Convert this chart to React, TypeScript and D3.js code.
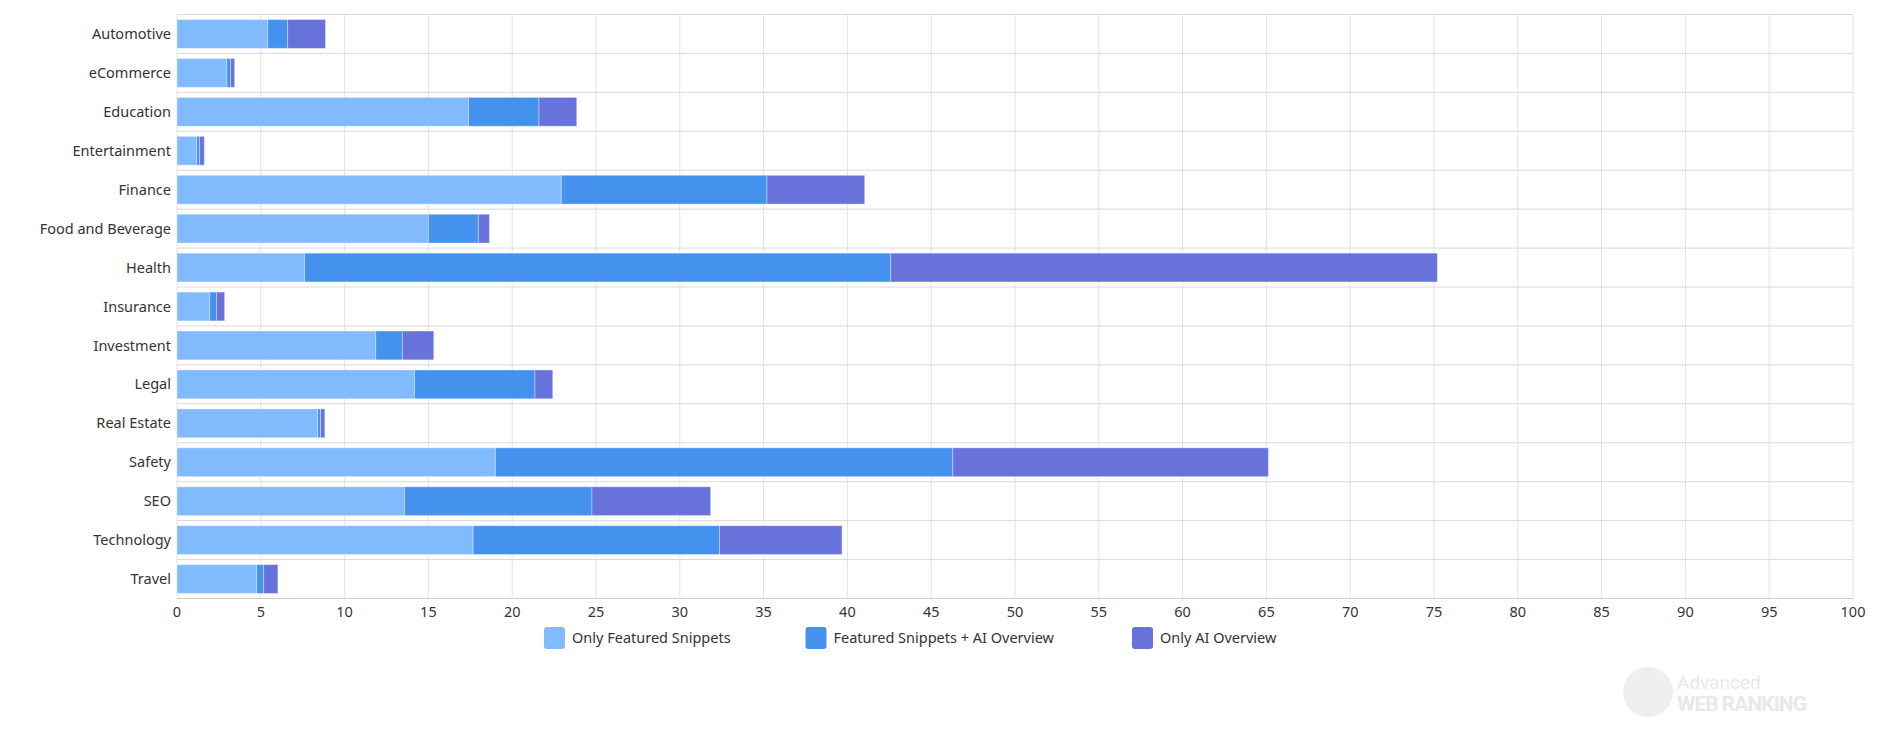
import * as d3 from 'd3';

const categories = [
  'Automotive', 'eCommerce', 'Education', 'Entertainment', 'Finance',
  'Food and Beverage', 'Health', 'Insurance', 'Investment', 'Legal',
  'Real Estate', 'Safety', 'SEO', 'Technology', 'Travel',
];
const onlySnippets = [5.41, 2.98, 17.39, 1.17, 22.93, 15.0, 7.61, 1.95, 11.86, 14.17, 8.39, 19.0, 13.57, 17.67, 4.75];
const snippetsAndAI = [1.19, 0.22, 4.21, 0.18, 12.27, 2.98, 34.97, 0.41, 1.59, 7.19, 0.18, 27.29, 11.19, 14.7, 0.42];
const onlyAI = [2.26, 0.24, 2.25, 0.28, 5.83, 0.66, 32.62, 0.48, 1.87, 1.06, 0.25, 18.83, 7.08, 7.31, 0.85];
const seriesNames = ['Only Featured Snippets', 'Featured Snippets + AI Overview', 'Only AI Overview'];
const seriesColors = ['#82bbfd', '#4492ed', '#6872db'];
const xTicks = d3.range(0, 101, 5);

const W = 1895;
const H = 740;
const FONT = '"Noto Sans", "Open Sans", sans-serif';

export default function App() {
  const x = d3.scaleLinear().domain([0, 100]).range([177, 1853]);
  const y = d3.scaleBand<string>()
    .domain(categories)
    .range([14.5, 598.5])
    .paddingInner(0.26)
    .paddingOuter(0.13);
  const step = y.step();
  const top = 14.5;
  const bottom = 598.5;

  const rows = categories.map((c, i) => ({ c, vals: [onlySnippets[i], snippetsAndAI[i], onlyAI[i]] }));
  const stacked = d3.stack<{ c: string; vals: number[] }, number>()
    .keys([0, 1, 2])
    .value((d, k) => d.vals[k])(rows);

  const legendX = [544, 805.5, 1132];

  return (
    <div style={{ position: 'absolute', left: 0, top: 0 }}>
      <svg width={W} height={H} style={{ display: 'block', background: '#fff' }} fontFamily={FONT}>
        {/* vertical grid */}
        {xTicks.map(t => (
          <line key={'v' + t} x1={x(t)} x2={x(t)} y1={top} y2={bottom} stroke="#e3e3e3" strokeWidth={1} />
        ))}
        {/* row separators */}
        {d3.range(categories.length + 1).map(i => (
          <line key={'h' + i} x1={x(0)} x2={x(100)} y1={top + i * step} y2={top + i * step}
            stroke={i === categories.length ? '#cccccc' : '#dadada'} strokeWidth={1} />
        ))}

        {/* bars */}
        {stacked.map((s, si) => (
          <g key={'s' + si}>
            {s.map((d, i) => (
              <rect key={i}
                x={x(d[0])}
                y={y(categories[i])!}
                width={Math.max(0, x(d[1]) - x(d[0]))}
                height={y.bandwidth()}
                fill={seriesColors[si]}
                stroke="#ffffff"
                strokeOpacity={0.35}
                strokeWidth={1} />
            ))}
          </g>
        ))}

        {/* category labels */}
        {categories.map(c => (
          <text key={'l' + c} x={x(0) - 6} y={y(c)! + y.bandwidth() / 2} dy="0.35em"
            textAnchor="end" fontSize={14.5} fill="#333">{c}</text>
        ))}

        {/* x tick labels */}
        {xTicks.map(t => (
          <text key={'t' + t} x={x(t)} y={612} dy="0.35em" textAnchor="middle" fontSize={14.5} fill="#333">{t}</text>
        ))}

        {/* legend */}
        {seriesNames.map((n, i) => (
          <g key={'lg' + i} transform={`translate(${legendX[i]},627)`}>
            <rect width={21} height={22} rx={3} fill={seriesColors[i]} />
            <text x={28} y={11} dy="0.35em" fontSize={14.5} fill="#333">{n}</text>
          </g>
        ))}

        {/* watermark */}
        <g opacity={0.9}>
          <circle cx={1648} cy={692} r={25} fill="#eeeef0" />
          <text x={1677} y={689} fontSize={19} fill="#e6e6e9" fontFamily='"Liberation Sans Narrow", "Roboto", sans-serif'>Advanced</text>
          <text x={1677} y={711} fontSize={21} fontWeight="bold" fill="#e6e6e9" textLength={130}
            fontFamily='"Liberation Sans Narrow", "Roboto", sans-serif'>WEB RANKING</text>
        </g>
      </svg>
    </div>
  );
}
